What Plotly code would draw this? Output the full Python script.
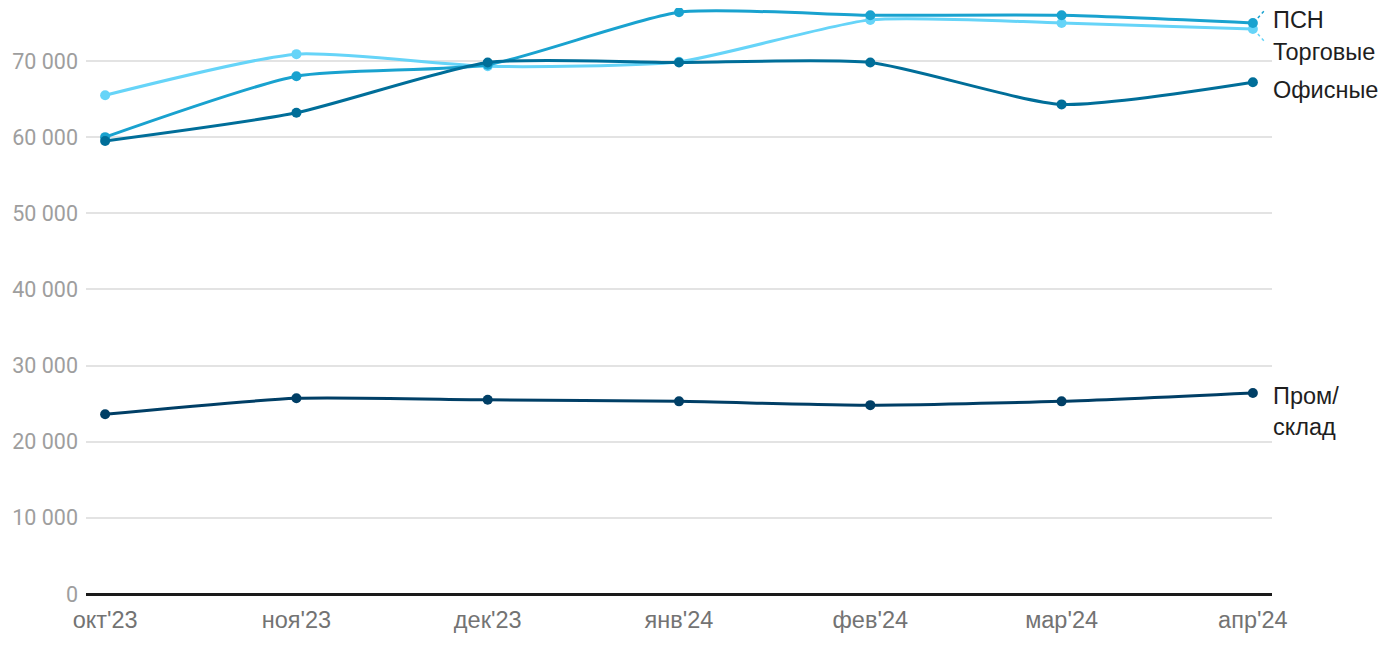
import plotly.graph_objects as go

months = ["окт'23", "ноя'23", "дек'23", "янв'24", "фев'24", "мар'24", "апр'24"]
tick_vals = [0, 10000, 20000, 30000, 40000, 50000, 60000, 70000]
tick_text = ["0", "10 000", "20 000", "30 000", "40 000", "50 000", "60 000", "70 000"]

trade = [65500, 70900, 69300, 69900, 75400, 75000, 74200]
psn = [60000, 68000, 69500, 76400, 76000, 76000, 75000]
office = [59500, 63200, 69800, 69800, 69800, 64300, 67200]
industrial = [23600, 25700, 25500, 25300, 24800, 25300, 26400]

series = [
    ("Торговые", trade, "#66d4f8", -23),
    ("ПСН", psn, "#19a2cf", 3),
    ("Офисные", office, "#006e99", -8),
    ("Пром/<br>склад", industrial, "#003f66", -19),
]

TICKFONT = "Roboto, Arial, sans-serif"
LABELFONT = "'Liberation Sans', Arial, Helvetica, sans-serif"

fig = go.Figure()
for name, vals, color, _ in series:
    fig.add_trace(go.Scatter(
        x=list(range(len(months))), y=vals, mode="lines+markers", name=name,
        line=dict(color=color, width=3, shape="spline", smoothing=0.6),
        marker=dict(color=color, size=10), showlegend=False, cliponaxis=False,
    ))

last = len(months) - 1
for name, vals, color, shift in series:
    fig.add_annotation(
        x=1, xref="paper", xanchor="left", xshift=-1,
        y=vals[-1], yref="y", yanchor="middle", yshift=shift,
        text=name, showarrow=False, align="left",
        font=dict(family=LABELFONT, size=23.5, color="#1e1e1e"),
    )

# dotted leader lines for the two crowded labels
for vals, color, d0, d1 in [(psn, "#19a2cf", 5, 13), (trade, "#66d4f8", -5, -13)]:
    fig.add_shape(
        type="line", xref="x", yref="y", xsizemode="pixel", ysizemode="pixel",
        xanchor=last, yanchor=vals[-1], x0=5, x1=12, y0=d0, y1=d1,
        line=dict(color=color, width=1.5, dash="dot"),
    )

fig.update_layout(
    width=1400, height=650,
    margin=dict(l=78, r=136, t=0, b=64, pad=0, autoexpand=False),
    plot_bgcolor="white", paper_bgcolor="white",
    font=dict(family=TICKFONT),
)
fig.update_xaxes(
    range=[-0.1, last + 0.1], tickvals=list(range(len(months))), ticktext=months,
    showgrid=False, zeroline=False, showline=False, ticks="", automargin=False,
    tickfont=dict(family=LABELFONT, size=23.5, color="#737373"),
    ticklabelstandoff=9,
)
fig.update_yaxes(
    range=[0, 76960], tickvals=tick_vals, ticktext=tick_text,
    showgrid=True, gridcolor="#e3e3e3", gridwidth=1.5, automargin=False,
    zeroline=True, zerolinecolor="#1a1a1a", zerolinewidth=2.5,
    showline=False, ticks="", ticklabelstandoff=7,
    tickfont=dict(size=21.5, color="#9e9e9e"),
)
fig.write_html("out.html")
